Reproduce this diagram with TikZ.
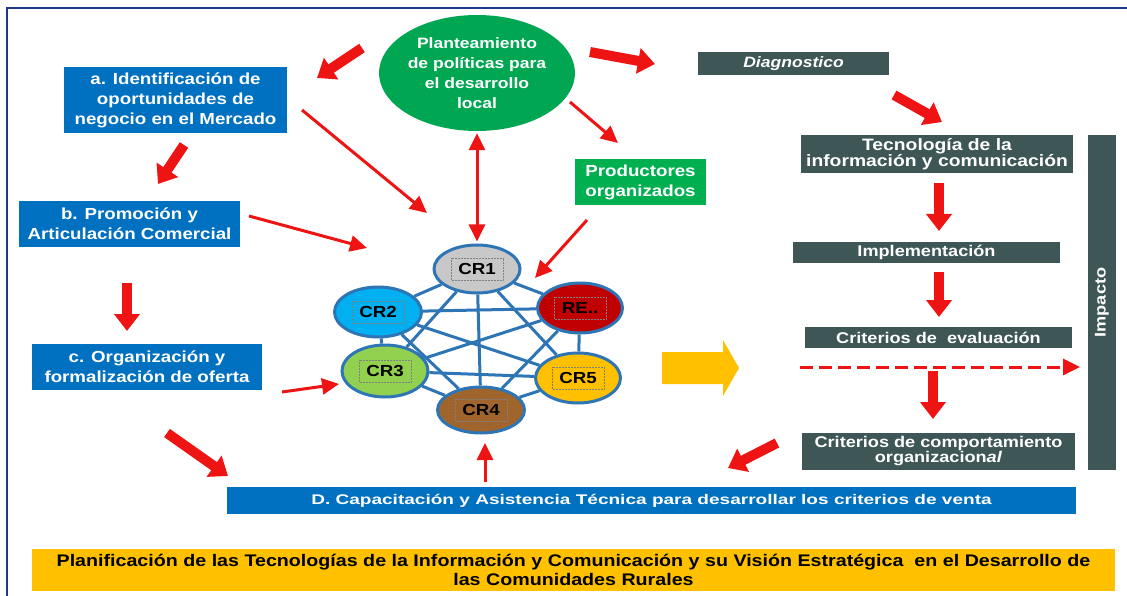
\documentclass[tikz,border=0pt]{standalone}
\usepackage{fontspec}
\setmainfont{Liberation Sans}[FakeStretch=1.17]
\newfontfamily\anchafont{Liberation Sans}[FakeStretch=1.36]
\usetikzlibrary{arrows.meta,backgrounds,shapes.geometric}

\definecolor{azulcaja}{RGB}{0,112,192}
\definecolor{grisoscuro}{RGB}{62,86,86}
\definecolor{verdeplan}{RGB}{0,166,81}
\definecolor{verdeprod}{RGB}{0,176,80}
\definecolor{rojoflecha}{RGB}{238,20,20}
\definecolor{amarillo}{RGB}{255,192,0}
\definecolor{azulmarco}{RGB}{31,56,140}
\definecolor{azulmalla}{RGB}{46,117,182}
\definecolor{crgris}{RGB}{200,200,200}
\definecolor{crazul}{RGB}{0,176,240}
\definecolor{crrojo}{RGB}{192,0,0}
\definecolor{crverde}{RGB}{146,208,80}
\definecolor{crmarron}{RGB}{160,100,45}

\begin{document}
\begin{tikzpicture}[x=1pt,y=-1pt,
   caja azul/.style={rectangle,fill=azulcaja,text=white,align=center,inner sep=0pt,
     font=\bfseries\fontsize{16}{20}\selectfont},
   caja gris/.style={rectangle,fill=grisoscuro,text=white,align=center,inner sep=0pt,
     font=\bfseries\fontsize{16}{16}\selectfont},
   circulo cr/.style={ellipse,draw=azulmalla,line width=3pt,inner sep=0pt,
     font=\bfseries\fontsize{16}{18}\selectfont},
   marco texto/.style={draw=gray,densely dotted,line width=0.5pt},
   linea malla/.style={draw=azulmalla,line width=3pt},
   flecha gruesa/.style={draw=rojoflecha,line width=10pt,-{Triangle[width=25pt,length=17pt]}},
   flecha fina/.style={draw=rojoflecha,line width=3pt,-{Triangle[width=16pt,length=17pt]}}]

  \useasboundingbox (0,0) rectangle (1127,596);
  \draw[azulmarco,line width=2pt] (7,596) -- (7,8) -- (1127,8);

  % columna izquierda
  \node[caja azul,minimum width=223pt,minimum height=66pt] (a) at (175.5,100)
    {a. Identificación de\\oportunidades de\\negocio en el Mercado};
  \node[caja azul,minimum width=221pt,minimum height=46pt] (b) at (129.5,224)
    {b. Promoción y\\Articulación Comercial};
  \node[caja azul,minimum width=230pt,minimum height=46pt] (c) at (147,367)
    {c. Organización y\\formalización de oferta};
  \node[caja azul,minimum width=849pt,minimum height=27pt,font=\anchafont\bfseries\fontsize{14}{16}\selectfont] (d) at (651.5,500.5)
    {D. Capacitación y Asistencia Técnica para desarrollar los criterios de venta};

  % centro
  \node[ellipse,fill=verdeplan,text=white,align=center,inner sep=0pt,minimum width=186pt,minimum height=116pt,
    font=\bfseries\fontsize{15}{20}\selectfont] (plan) at (477,73)
    {Planteamiento\\de políticas para\\el desarrollo\\local};
  \node[caja azul,fill=verdeprod,minimum width=131pt,minimum height=46pt] (prod) at (640.5,182)
    {Productores\\organizados};

  \node[circulo cr,fill=crgris,minimum width=86pt,minimum height=48pt] (cr1) at (477,269) {CR1};
  \node[circulo cr,fill=crazul,minimum width=87pt,minimum height=50pt] (cr2) at (378,312) {CR2};
  \node[circulo cr,fill=crrojo,minimum width=85pt,minimum height=50pt] (re) at (580,308) {RE..};
  \node[circulo cr,fill=crverde,minimum width=86pt,minimum height=52pt] (cr3) at (385,371) {CR3};
  \node[circulo cr,fill=amarillo,minimum width=85pt,minimum height=50pt] (cr5) at (578,378) {CR5};
  \node[circulo cr,fill=crmarron,minimum width=87pt,minimum height=46pt] (cr4) at (481,410) {CR4};

  \foreach \n in {cr1,cr2,re,cr3,cr5,cr4}
    \draw[marco texto] (\n.center) ++(-26,-11) rectangle ++(52,22);

  \begin{pgfonlayer}{background}
    \foreach \from/\to in {cr1/cr2,cr1/re,cr1/cr3,cr1/cr4,cr1/cr5,cr2/re,cr2/cr3,cr2/cr4,
        cr2/cr5,re/cr3,re/cr4,re/cr5,cr3/cr4,cr3/cr5,cr4/cr5}
      \draw[linea malla] (\from) -- (\to);
  \end{pgfonlayer}

  \fill[amarillo] (662,352) -- (723,352) -- (723,340) -- (739,368) -- (723,396) -- (723,384) -- (662,384) -- cycle;

  % columna derecha
  \node[caja gris,minimum width=191pt,minimum height=23pt,font=\bfseries\itshape\fontsize{15}{16}\selectfont] (diag) at (793.5,63.5) {Diagnostico};
  \node[caja gris,minimum width=272pt,minimum height=38pt,font=\bfseries\fontsize{16.5}{15}\selectfont] (tic) at (937,154)
    {Tecnología de la\\información y comunicación};
  \node[caja gris,minimum width=267pt,minimum height=21pt,font=\bfseries\fontsize{15.5}{16}\selectfont] (impl) at (926.5,252.5) {Implementación};
  \node[caja gris,minimum width=267pt,minimum height=21pt,font=\bfseries\fontsize{15.5}{16}\selectfont] (eval) at (938.5,337.5) {Criterios de\ \ evaluación};
  \node[caja gris,minimum width=273pt,minimum height=37pt,font=\bfseries\fontsize{15.5}{15}\selectfont] (comp) at (938.5,451.5)
    {Criterios de comportamiento\\organizacion\textit{al}};
  \node[caja gris,rotate=90,minimum width=335pt,minimum height=28pt,font=\bfseries\fontsize{15.5}{16}\selectfont] (imp) at (1102,302.5) {Impacto};

  % titulo
  \node[fill=amarillo,minimum width=1083pt,minimum height=42pt,align=center,inner sep=0pt,
    font=\bfseries\fontsize{16.8}{19}\selectfont] (titulo) at (573.5,570)
    {Planificación de las Tecnologías de la Información y Comunicación y su Visión Estratégica\ \ en el Desarrollo de\\las Comunidades Rurales};

  % flechas
  \foreach \n/\x/\y in {g1/362/48, h1/317/78, g2/184/145, h2/158/184, g3/127/283, h3/127/331,
      g4/167/433, h4/228/476, g5/590/52, h5/655/64, g6/894/95, h6/942/122,
      g7/939/183, h7/939/231, g8/939/272, h8/939/317, g9/933/371, h9/933/419,
      g10/777/443, h10/728/468,
      f1/302/110, k1/427/213, f2/249/216, k2/367/248, f3/282/392, k3/339/384,
      f4/570/102, k4/618/143, f5/587/220, k5/535/278, f6/485/482, k6/485/443,
      f7/800/367, k7/1080/367}
    \coordinate (\n) at (\x,\y);

  \foreach \from/\to in {g1/h1,g2/h2,g3/h3,g4/h4,g5/h5,g6/h6,g7/h7,g8/h8,g9/h9,g10/h10}
    \draw[flecha gruesa] (\from) -- (\to);
  \foreach \from/\to in {f1/k1,f2/k2,f3/k3,f4/k4,f5/k5,f6/k6}
    \draw[flecha fina] (\from) -- (\to);
  \draw[flecha fina,{Triangle[width=16pt,length=17pt]}-{Triangle[width=16pt,length=17pt]},shorten <=2pt,shorten >=2pt] (plan) -- (cr1);
  \draw[flecha fina,dash pattern=on 13pt off 6pt] (f7) -- (k7);
\end{tikzpicture}
\end{document}
